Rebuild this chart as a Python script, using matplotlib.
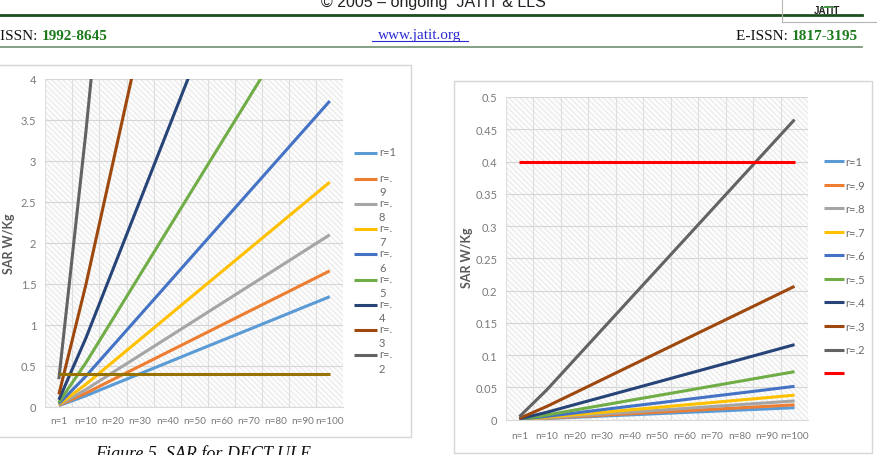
import numpy as np
import matplotlib
matplotlib.use("Agg")
import matplotlib.pyplot as plt
from matplotlib.lines import Line2D
from matplotlib.patches import Rectangle
from matplotlib.text import Annotation
from matplotlib.legend_handler import HandlerLine2D
from matplotlib.ticker import FuncFormatter

# ---------------- data ----------------
categories = ["n=1", "n=10", "n=20", "n=30", "n=40", "n=50",
              "n=60", "n=70", "n=80", "n=90", "n=100"]
series_labels = ["r=1", "r=.9", "r=.8", "r=.7", "r=.6", "r=.5", "r=.4", "r=.3", "r=.2"]
series_colors = ["#5B9BD5", "#ED7D31", "#A5A5A5", "#FFC000", "#4472C4",
                 "#70AD47", "#264478", "#9E480E", "#636363"]

# left chart (Figure 5, SAR for DECT ULE)
left_r10 = [0.013, 0.134, 0.269, 0.403, 0.537, 0.672, 0.806, 0.940, 1.074, 1.209, 1.343]
left_r09 = [0.017, 0.166, 0.332, 0.497, 0.663, 0.829, 0.995, 1.161, 1.326, 1.492, 1.658]
left_r08 = [0.021, 0.210, 0.420, 0.629, 0.839, 1.049, 1.259, 1.469, 1.678, 1.888, 2.098]
left_r07 = [0.027, 0.274, 0.548, 0.822, 1.096, 1.371, 1.645, 1.919, 2.193, 2.467, 2.741]
left_r06 = [0.037, 0.373, 0.746, 1.119, 1.492, 1.866, 2.239, 2.612, 2.985, 3.358, 3.731]
left_r05 = [0.054, 0.537, 1.074, 1.612, 2.149, 2.686, 3.223, 3.760, 4.298, 4.835, 5.372]
left_r04 = [0.084, 0.839, 1.679, 2.518, 3.358, 4.197, 5.036, 5.876, 6.715, 7.555, 8.394]
left_r03 = [0.149, 1.492, 2.984, 4.477, 5.969, 7.461, 8.953, 10.445, 11.938, 13.430, 14.922]
left_r02 = [0.336, 3.358, 6.715, 10.073, 13.430, 16.788, 20.145, 23.503, 26.860, 30.218, 33.575]
left_limit = [0.4, 0.4, 0.4, 0.4, 0.4, 0.4, 0.4, 0.4, 0.4, 0.4, 0.4]

# right chart
right_r10 = [0.0002, 0.0019, 0.0037, 0.0056, 0.0074, 0.0093, 0.0112, 0.0130, 0.0149, 0.0167, 0.0186]
right_r09 = [0.0002, 0.0023, 0.0046, 0.0069, 0.0092, 0.0115, 0.0138, 0.0161, 0.0184, 0.0207, 0.0230]
right_r08 = [0.0003, 0.0029, 0.0058, 0.0087, 0.0116, 0.0145, 0.0174, 0.0204, 0.0233, 0.0262, 0.0291]
right_r07 = [0.0004, 0.0038, 0.0076, 0.0114, 0.0152, 0.0190, 0.0228, 0.0266, 0.0304, 0.0342, 0.0380]
right_r06 = [0.0005, 0.0052, 0.0103, 0.0155, 0.0207, 0.0258, 0.0310, 0.0362, 0.0413, 0.0465, 0.0517]
right_r05 = [0.0007, 0.0074, 0.0149, 0.0223, 0.0298, 0.0372, 0.0446, 0.0521, 0.0595, 0.0670, 0.0744]
right_r04 = [0.0012, 0.0116, 0.0233, 0.0349, 0.0465, 0.0581, 0.0698, 0.0814, 0.0930, 0.1046, 0.1163]
right_r03 = [0.0021, 0.0207, 0.0413, 0.0620, 0.0827, 0.1033, 0.1240, 0.1447, 0.1653, 0.1860, 0.2067]
right_r02 = [0.0047, 0.0465, 0.0930, 0.1395, 0.1860, 0.2325, 0.2790, 0.3255, 0.3720, 0.4185, 0.4650]
right_limit = [0.4, 0.4, 0.4, 0.4, 0.4, 0.4, 0.4, 0.4, 0.4, 0.4, 0.4]

left_yticks = [0, 0.5, 1, 1.5, 2, 2.5, 3, 3.5, 4]
right_yticks = [0, 0.05, 0.1, 0.15, 0.2, 0.25, 0.3, 0.35, 0.4, 0.45, 0.5]
y_title = "SAR W/Kg"
caption = "Figure 5. SAR for DECT ULE"

left_series = [left_r10, left_r09, left_r08, left_r07, left_r06,
               left_r05, left_r04, left_r03, left_r02]
right_series = [right_r10, right_r09, right_r08, right_r07, right_r06,
                right_r05, right_r04, right_r03, right_r02]

# ---------------- figure ----------------
plt.rcParams["hatch.linewidth"] = 0.4
W, H = 878, 456
fig = plt.figure(figsize=(W / 100, H / 100), dpi=100)
fig.patch.set_facecolor("white")

def fx(x):
    return x / W

def fy(y):
    return 1 - y / H

TICK_FONT = "Lato"
GRAY_TXT = "#7a7a7a"
FS = 8.0


class RaisedLine(HandlerLine2D):
    def __init__(self, raise_frac=0.0, **kw):
        super().__init__(**kw)
        self.raise_frac = raise_frac

    def create_artists(self, legend, orig_handle, xdescent, ydescent,
                       width, height, fontsize, trans):
        arts = super().create_artists(legend, orig_handle, xdescent, ydescent,
                                      width, height, fontsize, trans)
        for a in arts:
            a.set_ydata(np.asarray(a.get_ydata(), float) + self.raise_frac * fontsize)
        return arts


def style_axes(ax, ymax, yticks, xpad, ypad):
    x = np.arange(len(categories))
    ax.set_xlim(-0.5, len(categories) - 0.5)
    ax.set_ylim(0, ymax)
    ax.set_facecolor("#fcfcfc")
    ax.add_patch(Rectangle((0, 0), 1, 1, transform=ax.transAxes, facecolor="none",
                           edgecolor="#d9d9d9", hatch="\\" * 6, lw=0, zorder=0))
    ax.set_xticks(x)
    ax.set_xticklabels(categories)
    ax.set_xticks(np.arange(-0.5, len(categories), 1), minor=True)
    ax.set_yticks(yticks)
    ax.yaxis.set_major_formatter(FuncFormatter(lambda v, p: f"{v:g}"))
    ax.grid(True, which="major", axis="y", color="#d6d6d6", lw=0.8)
    ax.grid(True, which="minor", axis="x", color="#dedede", lw=0.8)
    ax.set_axisbelow(True)
    for s in ["top", "right", "left"]:
        ax.spines[s].set_visible(False)
    ax.spines["bottom"].set_color("#d9d9d9")
    ax.spines["bottom"].set_linewidth(0.8)
    ax.tick_params(which="both", length=0)
    ax.tick_params(axis="x", pad=xpad, labelsize=7.2, labelcolor=GRAY_TXT)
    ax.tick_params(axis="y", pad=ypad, labelsize=FS, labelcolor=GRAY_TXT)
    for lab in ax.get_xticklabels() + ax.get_yticklabels():
        lab.set_family(TICK_FONT)
    return x


# chart frames
fig.add_artist(Rectangle((fx(-3), fy(438)), fx(413.7), 372.3 / H, transform=fig.transFigure,
                         facecolor="none", edgecolor="#d6d6d6", lw=1.0))
fig.add_artist(Rectangle((fx(454.3), fy(454.3)), fx(417.4), 372.0 / H, transform=fig.transFigure,
                         facecolor="none", edgecolor="#d6d6d6", lw=1.0))

# ---- left chart ----
axL = fig.add_axes([fx(45.3), fy(407.7), fx(298), 327.7 / H])
xL = style_axes(axL, 4, left_yticks, 7.0, 6.5)
handlesL = []
for vals, col, lab in zip(left_series, series_colors, series_labels):
    h, = axL.plot(xL, vals, color=col, lw=2.2, solid_capstyle="butt", label=lab)
    handlesL.append(h)
axL.plot(xL, left_limit, color="#997300", lw=2.2, solid_capstyle="butt")
axL.set_ylabel(y_title, family=TICK_FONT, fontweight="bold", fontsize=9, color="#595959")
axL.yaxis.set_label_coords(-0.102, 0.5)

wrapped = [lab if "." not in lab else lab.replace(".", ".\n") for lab in series_labels]
wrapped = [lab if "\n" in lab else lab + "\n " for lab in wrapped]
legL = axL.legend(handlesL, wrapped, loc="upper left",
                  bbox_to_anchor=(fx(354), fy(147.5)), bbox_transform=fig.transFigure,
                  frameon=False, borderpad=0, borderaxespad=0,
                  handlelength=2.05, handletextpad=0.2, labelspacing=0.0,
                  labelcolor="#6a6a6a", prop={"family": TICK_FONT, "size": FS},
                  handler_map={Line2D: RaisedLine(0.57)})
for t in legL.get_texts():
    t.set_linespacing(1.36)

# ---- right chart ----
axR = fig.add_axes([fx(505.7), fy(420.7), fx(302.6), 322.7 / H])
xR = style_axes(axR, 0.5, right_yticks, 8.0, 6.0)
handlesR = []
for vals, col, lab in zip(right_series, series_colors, series_labels):
    h, = axR.plot(xR, vals, color=col, lw=2.2, solid_capstyle="butt", label=lab)
    handlesR.append(h)
hl, = axR.plot(xR, right_limit, color="#FF0000", lw=2.2, solid_capstyle="butt")
axR.set_ylabel(y_title, family=TICK_FONT, fontweight="bold", fontsize=9, color="#595959")
axR.yaxis.set_label_coords(-0.108, 0.505)
legR = axR.legend(handlesR + [hl], series_labels + [""], loc="upper left",
                  bbox_to_anchor=(fx(824), fy(157)), bbox_transform=fig.transFigure,
                  frameon=False, borderpad=0, borderaxespad=0,
                  handlelength=1.8, handletextpad=0.1, labelspacing=1.13,
                  labelcolor="#6a6a6a", prop={"family": TICK_FONT, "size": FS})

# ---------------- page decoration ----------------
fig.text(fx(433), fy(7.5), "© 2005 – ongoing  JATIT & LLS", ha="center", va="baseline",
         family="Liberation Sans", fontsize=11.5, color="#222222")
fig.add_artist(Line2D([fx(0), fx(862)], [fy(16), fy(16)], transform=fig.transFigure,
                      color="#1f4f1f", lw=2.0))
fig.add_artist(Line2D([fx(0), fx(862)], [fy(48.3), fy(48.3)], transform=fig.transFigure,
                      color="#6f8f6f", lw=1.2))
# logo box
fig.add_artist(Line2D([fx(782), fx(782), fx(878)], [fy(0), fy(23), fy(23)],
                      transform=fig.transFigure, color="#b5b5b5", lw=0.8))
fig.text(fx(827), fy(14.5), "JATIT", ha="center", va="baseline", family="Liberation Sans",
         fontweight="bold", fontsize=7, color="#222222")
fig.text(fx(827), fy(5.5), "▁▂▁", ha="center", va="baseline", fontsize=5, color="#3c9a3c")

t1 = fig.text(fx(0.5), fy(40), "ISSN: ", ha="left", va="baseline",
              family="Liberation Serif", fontsize=11, color="#111111")
fig.add_artist(Annotation("1992-8645", xy=(1, 0), xycoords=t1, ha="left", va="bottom",
                          family="Liberation Serif", fontweight="bold", fontsize=11,
                          color="#1d7a1d"))
fig.text(fx(420), fy(39.5), "www.jatit.org", ha="center", va="baseline",
         family="Liberation Serif", fontsize=11, color="#2a2ad0")
fig.add_artist(Line2D([fx(372), fx(468)], [fy(41.7), fy(41.7)], transform=fig.transFigure,
                      color="#2a2ad0", lw=0.8))
t2 = fig.text(fx(858), fy(40), "1817-3195", ha="right", va="baseline",
              family="Liberation Serif", fontweight="bold", fontsize=11, color="#1d7a1d")
fig.add_artist(Annotation("E-ISSN: ", xy=(0, 0), xycoords=t2, ha="right", va="bottom",
                          family="Liberation Serif", fontsize=11, color="#111111"))

fig.text(fx(203), fy(459.5), caption, ha="center", va="baseline",
         family="Liberation Serif", style="italic", fontsize=13, color="#111111")

fig.savefig("out.png", dpi=100)
